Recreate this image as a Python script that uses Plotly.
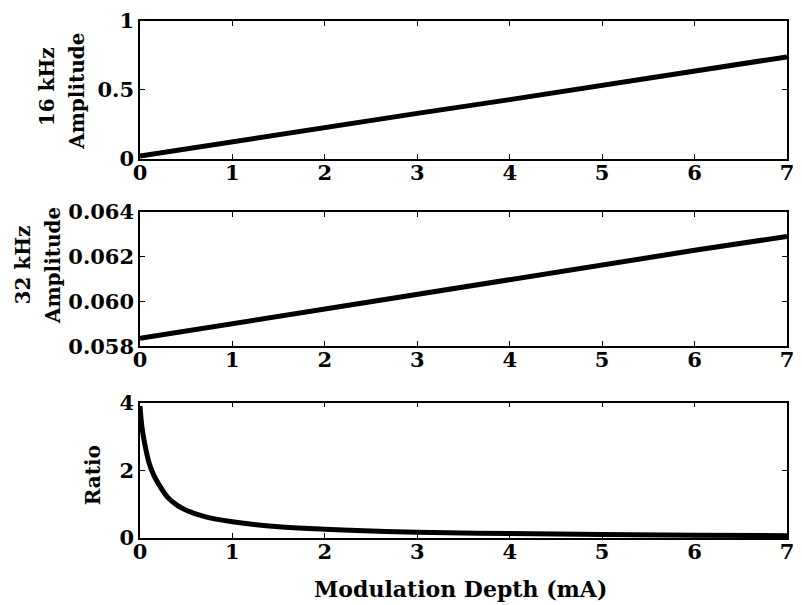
import plotly.graph_objects as go

# ---- data ----
depth_lin = [0, 1, 2, 3, 4, 5, 6, 7]
amp16 = [0.02, 0.125, 0.23, 0.33, 0.43, 0.535, 0.64, 0.74]
amp32 = [0.05835, 0.05901, 0.05966, 0.06032, 0.06097, 0.06163, 0.06228, 0.0629]

depth_ratio = [0, 0.02, 0.05, 0.1, 0.15, 0.2, 0.3, 0.4, 0.5, 0.7, 1, 1.5, 2, 2.5, 3, 4, 5, 6, 7]
ratio = [3.9, 3.3, 2.8, 2.2, 1.85, 1.6, 1.2, 0.97, 0.82, 0.63, 0.48, 0.33, 0.26, 0.21, 0.17, 0.13, 0.1, 0.08, 0.07]

x_ticks = [0, 1, 2, 3, 4, 5, 6, 7]
top_ticks = [0, 0.5, 1]
top_labels = ["0", "0.5", "1"]
mid_ticks = [0.058, 0.060, 0.062, 0.064]
mid_labels = ["0.058", "0.060", "0.062", "0.064"]
bot_ticks = [0, 2, 4]
bot_labels = ["0", "2", "4"]

FONT = "DejaVu Serif"
TICKFONT = dict(family=FONT, size=21, color="black")

fig = go.Figure()
line = dict(color="black", width=5)
fig.add_trace(go.Scatter(x=depth_lin, y=amp16, mode="lines", line=line, xaxis="x", yaxis="y"))
fig.add_trace(go.Scatter(x=depth_lin, y=amp32, mode="lines", line=line, xaxis="x2", yaxis="y2"))
fig.add_trace(go.Scatter(x=depth_ratio, y=ratio, mode="lines", line=dict(color="black", width=5, shape="spline"),
                         xaxis="x3", yaxis="y3"))

H = 605
PT, PB = 15, 67
ph = H - PT - PB
def yp(py):
    return (H - PB - py) / ph

L, R = 140, 8
pw = 802 - L - R
def xp(px):
    return (px - L) / pw

common_x = dict(range=[0, 7], tickvals=x_ticks, ticktext=["<b>%d</b>" % v for v in x_ticks],
                showline=True, linecolor="black", linewidth=1.5, mirror="ticks",
                ticks="inside", ticklen=5, tickwidth=1.2, tickcolor="black",
                ticklabelstandoff=-6,
                showgrid=False, zeroline=False, tickfont=TICKFONT)
common_y = dict(showline=True, linecolor="black", linewidth=1.5, mirror="ticks",
                ticks="inside", ticklen=5, tickwidth=1.2, tickcolor="black",
                showgrid=False, zeroline=False, tickfont=TICKFONT)

def bold(lst):
    return ["<b>%s</b>" % t for t in lst]

fig.update_layout(
    width=802, height=605,
    margin=dict(l=L, r=R, t=PT, b=PB),
    paper_bgcolor="white", plot_bgcolor="white",
    showlegend=False,
    font=dict(family=FONT, color="black"),
    xaxis=dict(common_x, domain=[0, 1], anchor="y"),
    yaxis=dict(common_y, domain=[yp(154.5), 1], anchor="x", range=[0, 1],
               tickvals=top_ticks, ticktext=bold(top_labels)),
    xaxis2=dict(common_x, domain=[0, 1], anchor="y2"),
    yaxis2=dict(common_y, domain=[yp(344), yp(208)], anchor="x2", range=[0.058, 0.064],
                tickvals=mid_ticks, ticktext=bold(mid_labels)),
    xaxis3=dict(common_x, domain=[0, 1], anchor="y3"),
    yaxis3=dict(common_y, domain=[0, yp(401)], anchor="x3", range=[0, 4],
                tickvals=bot_ticks, ticktext=bold(bot_labels)),
)

rot_font = dict(family=FONT, size=20, color="black")
def vtext(txt, px, py):
    fig.add_annotation(text="<b>%s</b>" % txt, xref="paper", yref="paper",
                       x=xp(px), y=yp(py), textangle=-90, showarrow=False, font=rot_font,
                       xanchor="center", yanchor="middle")

vtext("16 kHz", 46, 82)
vtext("Amplitude", 77, 86)
vtext("32 kHz", 22, 262)
vtext("Amplitude", 52, 262)
vtext("Ratio", 92, 475)

fig.add_annotation(text="<b>Modulation Depth (mA)</b>", xref="paper", yref="paper",
                   x=xp(464), y=yp(590), showarrow=False,
                   font=dict(family=FONT, size=22, color="black"),
                   xanchor="center", yanchor="middle")

fig.write_html("out.html")
